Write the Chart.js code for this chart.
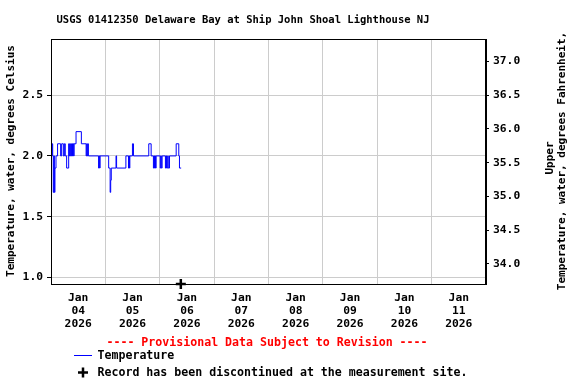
<!DOCTYPE html>
<html><head><meta charset="utf-8">
<script src="https://cdn.jsdelivr.net/npm/chart.js@4.4.0/dist/chart.umd.min.js"></script>
<style>html,body{margin:0;padding:0;background:#fff}#c{display:block}</style>
</head><body>
<canvas id="c" width="576" height="384"></canvas>
<script>
// ---- data (hours since 2026-01-04 00:00, water temperature in deg C) ----
const hoursSinceJan4 = [0,0.25,0.5,0.75,1.0,1.25,1.5,1.75,2.2,2.9,4.25,4.7,5.45,5.9,6.3,6.9,
  7.8,8.0,8.25,8.5,8.75,9.0,9.25,9.5,9.75,10.0,10.2,11.05,13.4,15.5,15.75,16.0,16.25,16.5,
  21.0,21.25,21.5,21.65,25.45,26.1,26.35,26.6,28.7,28.95,33.05,34.2,34.45,34.6,34.8,35.95,36.4,
  43.15,44.2,45.2,45.45,45.7,45.95,46.15,46.4,48.2,48.45,48.7,49.05,50.5,50.75,51.0,51.5,51.75,
  52.3,55.25,56.4,56.7,57.45];
const tempC = [2.1,2.0,2.1,2.0,1.7,2.0,1.7,1.9,2.0,2.1,2.0,2.1,2.0,2.1,2.0,1.9,
  2.1,2.0,2.1,2.0,2.1,2.0,2.1,2.0,2.1,2.0,2.1,2.2,2.1,2.0,2.1,2.0,2.1,2.0,
  1.9,2.0,1.9,2.0,1.9,1.7,1.8,1.9,2.0,1.9,2.0,1.9,2.0,1.9,2.0,2.1,2.0,
  2.1,2.0,1.9,2.0,1.9,2.0,1.9,2.0,1.9,2.0,1.9,2.0,1.9,2.0,1.9,2.0,1.9,
  2.0,2.1,2.0,1.9,1.9];
const discontinuedHour = 57.3;
const xGridHours = [0,24,48,72,96,120,144,168,192];
const xLabelHours = [12,36,60,84,108,132,156,180];
const xTickLabels = [['Jan','04','2026'],['Jan','05','2026'],['Jan','06','2026'],['Jan','07','2026'],
  ['Jan','08','2026'],['Jan','09','2026'],['Jan','10','2026'],['Jan','11','2026']];
const leftTicks = [1.0,1.5,2.0,2.5];
const rightTicks = [34.0,34.5,35.0,35.5,36.0,36.5,37.0];
const yMinC = 0.945, yMaxC = 2.963;
const xMinH = 0, xMaxH = 192;

const FONT = 'DejaVu Sans Mono';
const points = hoursSinceJan4.map((h,i)=>({x:h,y:tempC[i]}));

const textPlugin = {
  id:'texts',
  afterDraw(chart){
    const c = chart.ctx, a = chart.chartArea;
    c.save();
    // frame
    c.strokeStyle = '#000'; c.lineWidth = 1;
    c.strokeRect(a.left+0.5, a.top+0.5, a.right-a.left-1, a.bottom-a.top);
    c.fillStyle = '#000';
    c.textBaseline = 'middle';
    // title
    c.font = 'bold 10.5px "'+FONT+'"';
    c.textAlign = 'center';
    c.fillText('USGS 01412350 Delaware Bay at Ship John Shoal Lighthouse NJ', 243, 20);
    // axis titles
    c.font = 'bold 11px "'+FONT+'"';
    c.save(); c.translate(11, 161); c.rotate(-Math.PI/2);
    c.fillText('Temperature, water, degrees Celsius', 0, 0); c.restore();
    c.save(); c.translate(562, 161); c.rotate(-Math.PI/2);
    c.fillText('Temperature, water, degrees Fahrenheit,', 0, 0); c.restore();
    c.save(); c.translate(550, 158); c.rotate(-Math.PI/2);
    c.fillText('Upper', 0, 0); c.restore();
    // provisional
    c.font = 'bold 11.6px "'+FONT+'"';
    c.fillStyle = '#ff0000';
    c.fillText('---- Provisional Data Subject to Revision ----', 267, 343);
    // legend
    c.fillStyle = '#000';
    c.textAlign = 'left';
    c.fillText('Temperature', 97.5, 356);
    c.fillText('Record has been discontinued at the measurement site.', 97.5, 373);
    c.strokeStyle = '#0000ff'; c.lineWidth = 1;
    c.beginPath(); c.moveTo(74, 355.5); c.lineTo(92, 355.5); c.stroke();
    c.strokeStyle = '#000'; c.lineWidth = 2.5;
    c.beginPath(); c.moveTo(78, 372.5); c.lineTo(88, 372.5);
    c.moveTo(83, 367.5); c.lineTo(83, 377.5); c.stroke();
    c.restore();
  }
};

new Chart(document.getElementById('c'), {
  type:'line',
  data:{datasets:[
    {label:'Temperature', data:points, borderColor:'#0000ff', borderWidth:1, pointRadius:0,
     stepped:true, fill:false, yAxisID:'y', xAxisID:'x'},
    {label:'Discontinued', type:'scatter', data:[{x:discontinuedHour,y:yMinC}], pointStyle:'cross',
     pointRadius:5, borderColor:'#000', borderWidth:2.5, clip:false, yAxisID:'y', xAxisID:'x'}
  ]},
  options:{
    responsive:false, animation:false, devicePixelRatio:1,
    layout:{padding:{top:39,left:0,right:0,bottom:0}},
    plugins:{legend:{display:false}, title:{display:false}, tooltip:{enabled:false}},
    scales:{
      x:{type:'linear', position:'bottom', min:xMinH, max:xMaxH,
        afterBuildTicks(s){
          const all = xGridHours.concat(xLabelHours).sort((p,q)=>p-q);
          s.ticks = all.map(v=>({value:v}));
        },
        afterFit(s){ s.height = 100; },
        ticks:{autoSkip:false, maxRotation:0, padding:7.5, color:'#000',
          font:{family:FONT, weight:'bold', size:11.3, lineHeight:13/11.3},
          callback(v){ const i = xLabelHours.indexOf(v); return i>=0 ? xTickLabels[i] : ''; }},
        grid:{drawTicks:false, color(ctx){ return (ctx.tick && xGridHours.includes(ctx.tick.value)) ? '#cccccc' : 'rgba(0,0,0,0)'; }},
        border:{display:true, color:'#000'}
      },
      y:{type:'linear', position:'left', min:yMinC, max:yMaxC,
        afterBuildTicks(s){ s.ticks = leftTicks.map(v=>({value:v})); },
        afterFit(s){ s.width = 51; },
        ticks:{padding:4, color:'#000', font:{family:FONT, weight:'bold', size:11.3},
          callback(v){ return Number(v).toFixed(1); }},
        grid:{color:'#cccccc', tickColor:'#000', tickLength:4},
        border:{display:true, color:'#000'}
      },
      y2:{type:'linear', position:'right', min:yMinC*1.8+32, max:yMaxC*1.8+32,
        afterBuildTicks(s){ s.ticks = rightTicks.map(v=>({value:v})); },
        afterFit(s){ s.width = 90; },
        ticks:{padding:4, color:'#000', font:{family:FONT, weight:'bold', size:11.3},
          callback(v){ return Number(v).toFixed(1); }},
        grid:{drawOnChartArea:false, tickColor:'#000', tickLength:3},
        border:{display:true, color:'#000'}
      }
    }
  },
  plugins:[textPlugin]
});
</script>
</body></html>
